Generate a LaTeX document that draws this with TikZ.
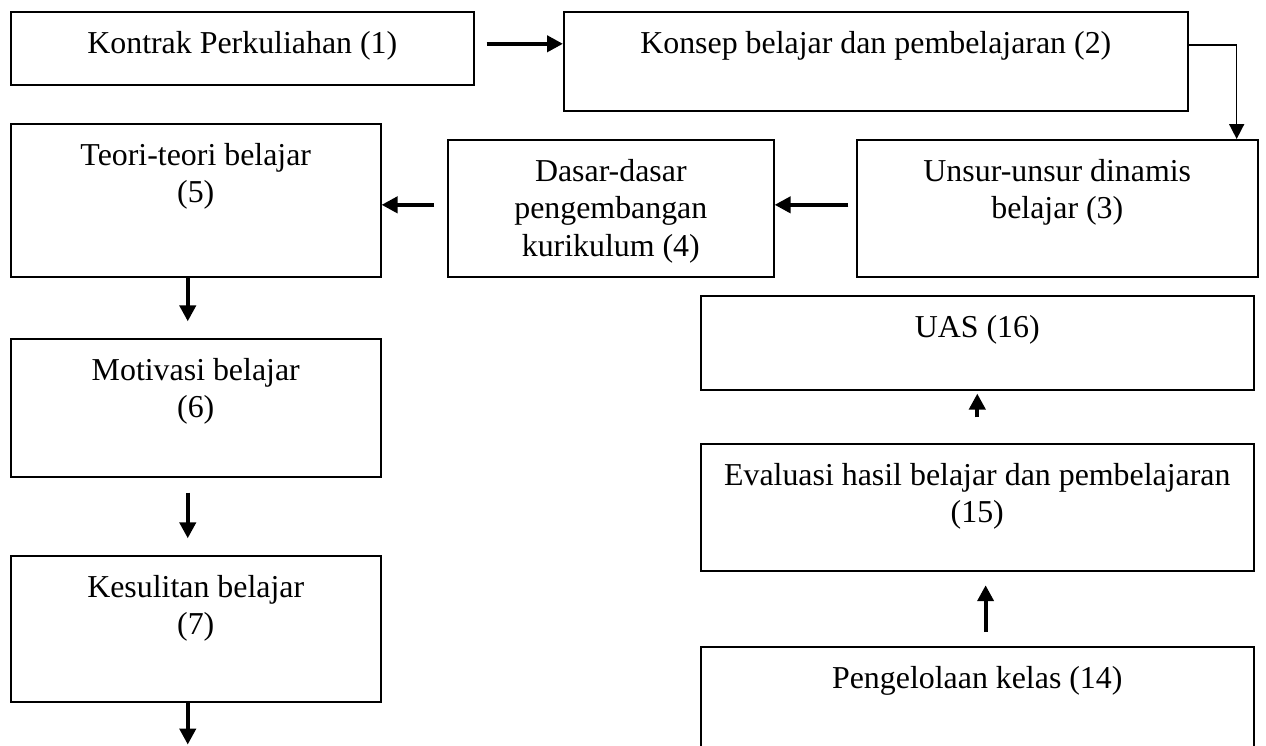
\documentclass[tikz,border=0pt]{standalone}
\usepackage{fontspec}
\setmainfont{Liberation Serif}
\usepackage{tikz}
\usetikzlibrary{arrows.meta}
\usetikzlibrary{positioning}
\tikzset{box/.style = {draw, line width=0.6pt, inner sep=0pt, anchor=north west,
                       font=\fontsize{12pt}{14pt}\selectfont}}
\tikzset{flow/.style = {line width=1.5pt, -{Triangle[length=6pt, width=6pt]}}}
\tikzset{thinflow/.style = {line width=0.6pt, -{Triangle[length=5.6pt, width=5.6pt]}}}
\newcommand{\boxtext}[3]{\parbox[t][#2][t]{#1}{\centering\vspace*{6pt}\strut #3}}

\begin{document}
\begin{tikzpicture}
      \clip (0, 0) rectangle (16.746, -9.855);

      \node [box] (kontrak) at (0.132, -0.146) {\boxtext{6.125cm}{0.966cm}{Kontrak Perkuliahan (1)}};
      \node [box] (konsep) at (7.447, -0.146) {\boxtext{8.254cm}{1.310cm}{Konsep belajar dan pembelajaran (2)}};
      \node [box] (unsur) at (11.323, -1.839) {\boxtext{5.304cm}{1.812cm}{Unsur-unsur dinamis\\belajar (3)}};
      \node [box] (dasar) at (5.913, -1.839) {\boxtext{4.312cm}{1.812cm}{Dasar-dasar\\pengembangan\\kurikulum (4)}};
      \node [box] (teori) at (0.132, -1.627) {\boxtext{4.894cm}{2.024cm}{Teori-teori belajar\\(5)}};
      \node [box] (motivasi) at (0.132, -4.471) {\boxtext{4.894cm}{1.825cm}{Motivasi belajar\\(6)}};
      \node [box] (kesulitan) at (0.132, -7.341) {\boxtext{4.894cm}{1.931cm}{Kesulitan belajar\\(7)}};

      \node [box] (uas) at (9.259, -3.902) {\boxtext{7.315cm}{1.243cm}{UAS (16)}};
      \node [box] (evaluasi) at (9.259, -5.860) {\boxtext{7.315cm}{1.680cm}{Evaluasi hasil belajar dan pembelajaran\\(15)}};
      \node [box] (kelas) at (9.259, -8.545) {\boxtext{7.315cm}{1.984cm}{Pengelolaan kelas (14)}};

      \path (kesulitan.south) ++(-0.106, -0.556) coordinate (next);

      \draw [flow, shorten <=0.16cm] ([yshift=0.06cm]kontrak.east) -- ([yshift=0.06cm]kontrak.east -| konsep.west);
      \draw [thinflow] ([yshift=0.22cm]konsep.east) -| ([xshift=-0.29cm]unsur.north east);
      \draw [flow, shorten <=0.1cm] ([yshift=0.046cm]unsur.west) -- ([yshift=0.046cm]dasar.east);
      \draw [flow, shorten <=0.17cm] ([yshift=0.046cm]dasar.west) -- ([yshift=0.046cm]dasar.west -| teori.east);

      \draw [flow, shorten >=0.22cm] ([xshift=-0.106cm]teori.south) -- ([xshift=-0.106cm]motivasi.north);
      \draw [flow, shorten <=0.2cm, shorten >=0.22cm] ([xshift=-0.106cm]motivasi.south) -- ([xshift=-0.106cm]kesulitan.north);
      \draw [flow] ([xshift=-0.106cm]kesulitan.south) -- (next);

      \draw [flow, shorten <=0.185cm, shorten >=0.18cm] ([xshift=0.11cm]kelas.north) -- ([xshift=0.11cm]evaluasi.south);
      \draw [flow, shorten <=0.34cm, shorten >=0.04cm] (evaluasi.north) -- (uas.south);
\end{tikzpicture}
\end{document}
